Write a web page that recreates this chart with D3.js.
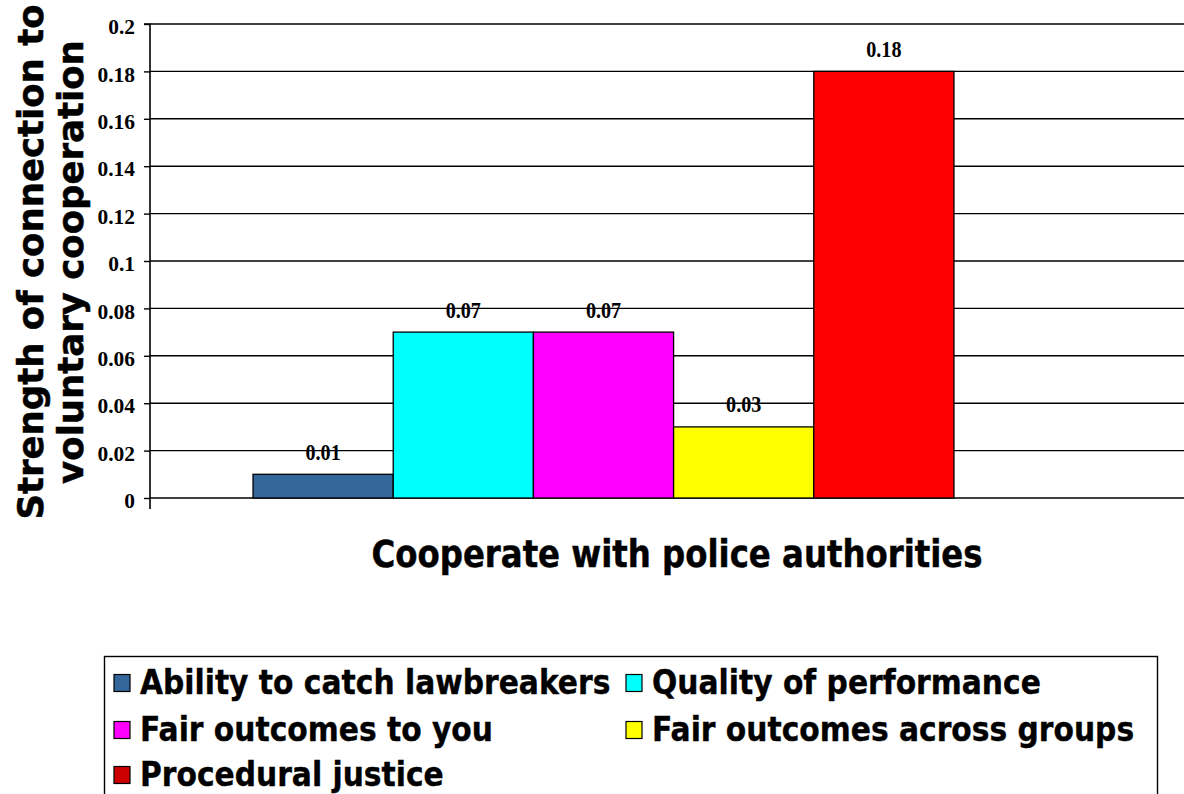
<!DOCTYPE html>
<html>
<head>
<meta charset="utf-8">
<script src="https://cdn.jsdelivr.net/npm/d3@7"></script>
<style>
  html, body { margin: 0; padding: 0; background: #fff; }
  svg { display: block; }
</style>
</head>
<body>
<svg id="chart" width="1184" height="794"></svg>
<script>
// Data
const series = ["Ability to catch lawbreakers", "Quality of performance", "Fair outcomes to you", "Fair outcomes across groups", "Procedural justice"];
const values = [0.01, 0.07, 0.07, 0.03, 0.18];
const barColors = ["#336699", "#00ffff", "#ff00ff", "#ffff00", "#ff0000"];
const swatchColors = ["#336699", "#00ffff", "#ff00ff", "#ffff00", "#cc0000"];
const category = "Cooperate with police authorities";
const yTicks = [0, 0.02, 0.04, 0.06, 0.08, 0.1, 0.12, 0.14, 0.16, 0.18, 0.2];
const yTitle = ["Strength of connection to", "voluntary cooperation"];

const svg = d3.select("#chart");
const plotLeft = 150, plotTop = 24, plotBottom = 498, gridRight = 1184, groupRight = 1057;
const serif = "'Liberation Serif', 'Times New Roman', serif";
const sans = "Verdana, 'DejaVu Sans', sans-serif";
const squeeze = 0.875; // horizontal condensing of the sans-serif labels

// squeeze/stretch a text run horizontally by factor k, keeping its anchor
function fitWidth(sel, k) {
  sel.each(function () {
    const w = this.getComputedTextLength();
    d3.select(this).attr("textLength", w * k).attr("lengthAdjust", "spacingAndGlyphs");
  });
}

const y = d3.scaleLinear().domain([0, 0.2]).range([plotBottom, plotTop]);
const xGroup = d3.scaleBand().domain([category]).range([plotLeft, groupRight]).paddingInner(0).paddingOuter(0.147);
const xBar = d3.scaleBand().domain(series).range([0, xGroup.bandwidth()]);

// gridlines
svg.append("g").selectAll("line").data(yTicks.filter(d => d > 0)).join("line")
  .attr("x1", plotLeft).attr("x2", gridRight)
  .attr("y1", d => y(d)).attr("y2", d => y(d))
  .attr("stroke", "#000").attr("stroke-width", 1.4);

// y axis
const yAxis = d3.axisLeft(y).tickValues(yTicks).tickSize(6).tickPadding(9)
  .tickFormat(d => d3.format("~g")(d));
const gy = svg.append("g").attr("transform", `translate(${plotLeft},0)`).call(yAxis);
gy.select(".domain").attr("stroke", "#000").attr("stroke-width", 1.6).attr("d", `M-6,${plotTop}H0V${plotBottom + 11}`);
gy.selectAll(".tick line").attr("stroke", "#000").attr("stroke-width", 1.4);
gy.selectAll(".tick text")
  .attr("font-family", serif).attr("dy", "0.48em")
  .attr("font-weight", "bold").attr("font-size", 20).attr("fill", "#000")
  .call(fitWidth, 1.07);

// baseline
svg.append("line").attr("x1", plotLeft).attr("x2", gridRight)
  .attr("y1", y(0)).attr("y2", y(0)).attr("stroke", "#000").attr("stroke-width", 1.4);

// bars
const g = svg.append("g").attr("transform", `translate(${xGroup(category)},0)`);
g.selectAll("rect").data(series).join("rect")
  .attr("x", d => xBar(d)).attr("width", xBar.bandwidth())
  .attr("y", (d, i) => y(values[i])).attr("height", (d, i) => y(0) - y(values[i]))
  .attr("fill", (d, i) => barColors[i]).attr("stroke", "#000").attr("stroke-width", 1.3);

// value labels
g.selectAll("text.val").data(series).join("text").attr("class", "val")
  .attr("x", d => xBar(d) + xBar.bandwidth() / 2)
  .attr("y", (d, i) => y(values[i]) - 14.5)
  .attr("text-anchor", "middle")
  .attr("font-family", serif)
  .attr("font-weight", "bold").attr("font-size", 23)
  .text((d, i) => values[i].toFixed(2))
  .call(fitWidth, 0.875);

// axis titles
svg.append("text")
  .attr("transform", `translate(677,567) scale(${squeeze},1)`)
  .attr("text-anchor", "middle")
  .attr("font-family", sans).attr("font-weight", "bold").attr("font-size", 37)
  .attr("stroke", "#000").attr("stroke-width", 0.5)
  .text(category);

const yt = svg.append("text")
  .attr("transform", `translate(43,262) rotate(-90)`)
  .attr("text-anchor", "middle")
  .attr("font-family", sans).attr("font-weight", "bold").attr("font-size", 35.5)
  .attr("stroke", "#000").attr("stroke-width", 0.5);
yt.selectAll("tspan").data(yTitle).join("tspan")
  .attr("x", 0).attr("dy", (d, i) => i === 0 ? 0 : 40).text(d => d);

// legend (box runs past the bottom edge of the canvas)
const legend = svg.append("g");
legend.append("rect").attr("x", 104.5).attr("y", 656.5).attr("width", 1053).attr("height", 160)
  .attr("fill", "#fff").attr("stroke", "#000").attr("stroke-width", 1.4);
const colX = [114, 626], rowY = [683, 730, 775];
const items = legend.selectAll("g.item").data(series).join("g").attr("class", "item")
  .attr("transform", (d, i) => `translate(${colX[i % 2]},${rowY[Math.floor(i / 2)]})`);
items.append("rect").attr("x", 0).attr("y", -8.5).attr("width", 16).attr("height", 17)
  .attr("fill", (d, i) => swatchColors[i]).attr("stroke", "#000").attr("stroke-width", 1.2);
items.append("text")
  .attr("transform", `translate(26,11) scale(${squeeze},1)`)
  .attr("font-family", sans).attr("font-weight", "bold").attr("font-size", 34)
  .attr("stroke", "#000").attr("stroke-width", 0.4)
  .text(d => d);
</script>
</body>
</html>
